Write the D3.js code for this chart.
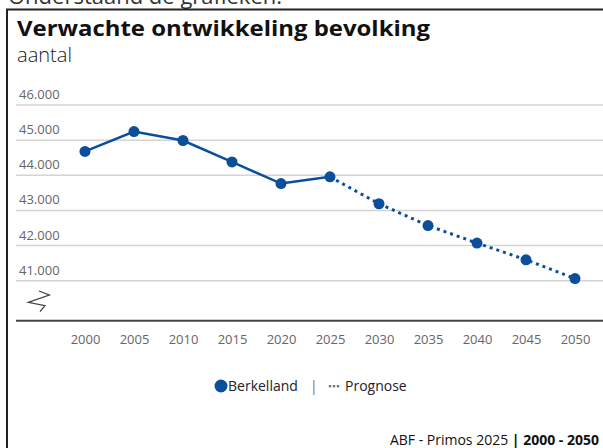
<!DOCTYPE html>
<html>
<head>
<meta charset="utf-8">
<script src="https://cdn.jsdelivr.net/npm/d3@7"></script>
<style>
  body { margin: 0; background: #fff; }
  svg { display: block; font-family: "Open Sans", "Noto Sans", sans-serif; }
</style>
</head>
<body>
<div id="chart"></div>
<script>
// data
const years = [2000, 2005, 2010, 2015, 2020, 2025, 2030, 2035, 2040, 2045, 2050];
const observed = [44680, 45245, 44990, 44380, 43765, 43955];
const forecast = [43955, 43190, 42570, 42070, 41595, 41060];
const yTicks = [41000, 42000, 43000, 44000, 45000, 46000];

const W = 603, H = 448;
const blue = "#0b4f9b";

const svg = d3.select("#chart").append("svg").attr("width", W).attr("height", H);

// cut off text above the frame
svg.append("text").attr("x", 8).attr("y", 4)
    .attr("font-size", 22).attr("fill", "#333")
    .text("Onderstaand de grafieken:");

// frame
svg.append("path").attr("d", `M7,${H} V9.5 H${W}`)
    .attr("fill", "none").attr("stroke", "#222").attr("stroke-width", 2);

// title
svg.append("text").attr("x", 17).attr("y", 36)
    .attr("font-size", 21).attr("font-weight", "bold").attr("fill", "#111")
    .attr("textLength", 413).attr("lengthAdjust", "spacingAndGlyphs")
    .text("Verwachte ontwikkeling bevolking");
svg.append("text").attr("x", 17).attr("y", 62)
    .attr("font-size", 21).attr("font-weight", 300).attr("fill", "#222")
    .attr("textLength", 55).attr("lengthAdjust", "spacingAndGlyphs")
    .text("aantal");

// scales
const x = d3.scalePoint().domain(years).range([85, 575]);
const y = d3.scaleLinear().domain([41000, 46000]).range([280.7, 105]);

// gridlines + labels
const grid = svg.append("g");
yTicks.forEach(t => {
    grid.append("line").attr("x1", 16).attr("x2", W)
        .attr("y1", y(t)).attr("y2", y(t))
        .attr("stroke", "#d4d4d4").attr("stroke-width", 1.5);
    grid.append("text").attr("x", 19).attr("y", y(t) - 6)
        .attr("font-size", 13).attr("fill", "#666")
        .text(d3.format(",")(t).replace(",", "."));
});

// baseline
svg.append("line").attr("x1", 16).attr("x2", W).attr("y1", 320.7).attr("y2", 320.7)
    .attr("stroke", "#444").attr("stroke-width", 2);

// axis break
svg.append("path").attr("d", "M39,291 L49.3,295 L28.3,302.3 L45,305.7 L40,311.7")
    .attr("fill", "none").attr("stroke", "#444").attr("stroke-width", 1.3);

// x axis labels
const xAxis = svg.append("g").attr("transform", "translate(0,320.7)")
    .call(d3.axisBottom(x).tickSize(0).tickPadding(14).tickFormat(d3.format("d")));
xAxis.select(".domain").remove();
xAxis.selectAll("text").attr("font-size", 13).attr("fill", "#666")
    .attr("font-family", "'Open Sans', sans-serif");

// lines
const line = d3.line().x(d => x(d[0])).y(d => y(d[1]));
const obsPts = observed.map((v, i) => [years[i], v]);
const fcPts = forecast.map((v, i) => [years[i + 5], v]);

svg.append("path").datum(fcPts).attr("d", line)
    .attr("fill", "none").attr("stroke", blue).attr("stroke-width", 3)
    .attr("stroke-dasharray", "3,4");
svg.append("path").datum(obsPts).attr("d", line)
    .attr("fill", "none").attr("stroke", blue).attr("stroke-width", 2.5);

svg.selectAll("circle.pt").data(obsPts.concat(fcPts.slice(1))).enter()
    .append("circle").attr("class", "pt")
    .attr("cx", d => x(d[0])).attr("cy", d => y(d[1])).attr("r", 5.5)
    .attr("fill", blue);

// legend
const lg = svg.append("g");
lg.append("circle").attr("cx", 221).attr("cy", 386).attr("r", 6.5).attr("fill", blue);
lg.append("text").attr("x", 228).attr("y", 391).attr("font-size", 14).attr("fill", "#222")
    .text("Berkelland");
lg.append("text").attr("x", 310).attr("y", 391).attr("font-size", 14).attr("fill", "#8a6a4a")
    .text("|");
[330, 334, 338].forEach(cx => lg.append("rect").attr("x", cx - 1.2).attr("y", 385)
    .attr("width", 2.4).attr("height", 2.4).attr("fill", "#777"));
lg.append("text").attr("x", 345).attr("y", 391).attr("font-size", 14).attr("fill", "#222")
    .text("Prognose");

// footer
const ft = svg.append("text").attr("x", 599).attr("y", 445).attr("text-anchor", "end")
    .attr("font-size", 14).attr("fill", "#111");
ft.append("tspan").text("ABF - Primos 2025 ");
ft.append("tspan").attr("font-weight", "bold").text("| 2000 - 2050");
</script>
</body>
</html>
